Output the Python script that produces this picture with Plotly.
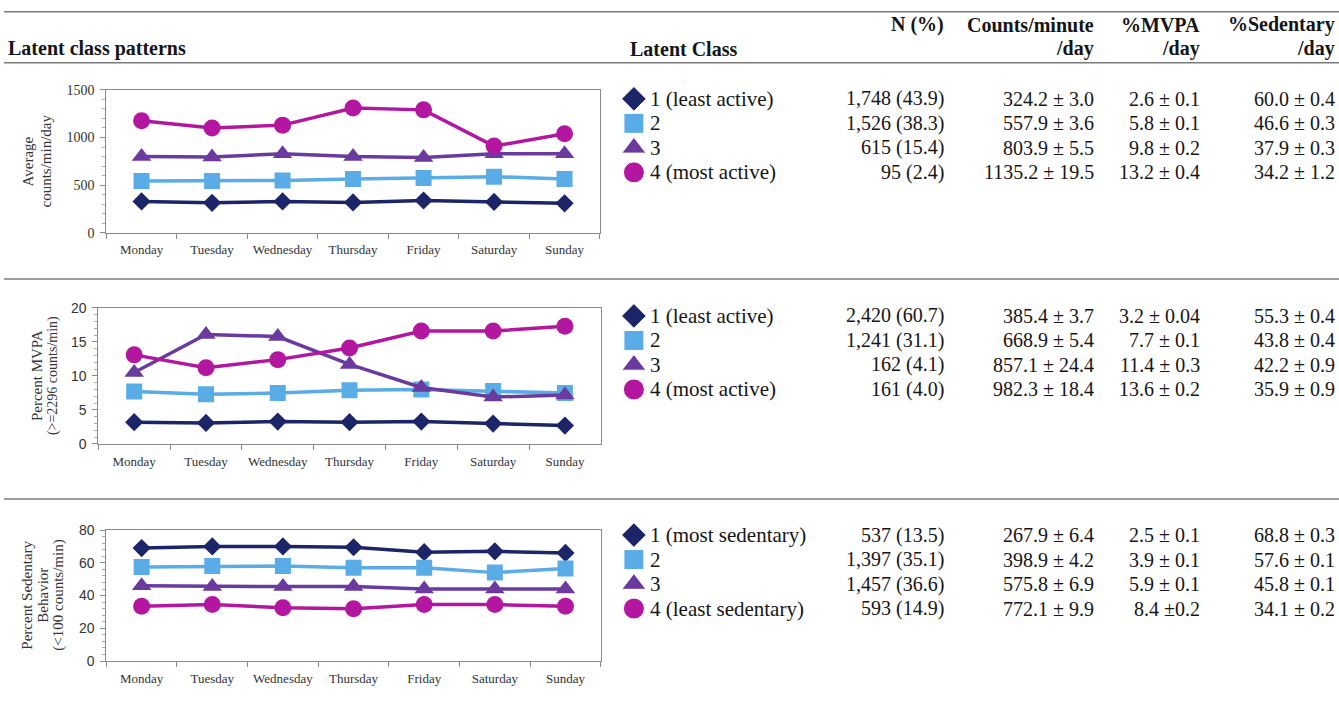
import plotly.graph_objects as go

W, H = 1339, 709

# ---------------- data ----------------
days = ["Monday", "Tuesday", "Wednesday", "Thursday", "Friday", "Saturday", "Sunday"]
class_ids = [1, 2, 3, 4]

counts_c1 = [330, 315, 330, 320, 340, 325, 310]
counts_c2 = [545, 545, 550, 565, 575, 590, 565]
counts_c3 = [800, 795, 830, 800, 790, 830, 830]
counts_c4 = [1175, 1100, 1130, 1310, 1290, 910, 1040]

mvpa_c1 = [3.2, 3.1, 3.3, 3.2, 3.3, 3.0, 2.7]
mvpa_c2 = [7.7, 7.3, 7.5, 7.9, 8.0, 7.8, 7.5]
mvpa_c3 = [10.5, 16.1, 15.8, 11.7, 8.3, 6.9, 7.2]
mvpa_c4 = [13.1, 11.2, 12.4, 14.1, 16.6, 16.6, 17.3]

sed_c1 = [69.0, 70.0, 70.0, 69.5, 66.5, 67.0, 66.0]
sed_c2 = [57.5, 58.0, 58.0, 57.0, 57.0, 54.0, 56.5]
sed_c3 = [46.0, 45.5, 45.5, 45.5, 44.0, 44.0, 44.0]
sed_c4 = [33.5, 34.5, 32.5, 32.0, 34.5, 34.5, 33.5]

y_titles = [["Average", "counts/min/day"],
            ["Percent MVPA", "(>=2296 counts/min)"],
            ["Percent Sedentary", "Behavior", "(<100 counts/min)"]]
y_ranges = [[0, 1500], [0, 20], [0, 80]]
y_dticks = [500, 5, 20]

header_cols = ["N (%)", "Counts/minute", "%MVPA", "%Sedentary"]
header_sub = ["", "/day", "/day", "/day"]

p1_labels = ["1 (least active)", "2", "3", "4 (most active)"]
p1_n = ["1,748 (43.9)", "1,526 (38.3)", "615 (15.4)", "95 (2.4)"]
p1_counts = ["324.2 ± 3.0", "557.9 ± 3.6", "803.9 ± 5.5", "1135.2 ± 19.5"]
p1_mvpa = ["2.6 ± 0.1", "5.8 ± 0.1", "9.8 ± 0.2", "13.2 ± 0.4"]
p1_sed = ["60.0 ± 0.4", "46.6 ± 0.3", "37.9 ± 0.3", "34.2 ± 1.2"]

p2_labels = ["1 (least active)", "2", "3", "4 (most active)"]
p2_n = ["2,420 (60.7)", "1,241 (31.1)", "162 (4.1)", "161 (4.0)"]
p2_counts = ["385.4 ± 3.7", "668.9 ± 5.4", "857.1 ± 24.4", "982.3 ± 18.4"]
p2_mvpa = ["3.2 ± 0.04", "7.7 ± 0.1", "11.4 ± 0.3", "13.6 ± 0.2"]
p2_sed = ["55.3 ± 0.4", "43.8 ± 0.4", "42.2 ± 0.9", "35.9 ± 0.9"]

p3_labels = ["1 (most sedentary)", "2", "3", "4 (least sedentary)"]
p3_n = ["537 (13.5)", "1,397 (35.1)", "1,457 (36.6)", "593 (14.9)"]
p3_counts = ["267.9 ± 6.4", "398.9 ± 4.2", "575.8 ± 6.9", "772.1 ± 9.9"]
p3_mvpa = ["2.5 ± 0.1", "3.9 ± 0.1", "5.9 ± 0.1", "8.4 ±0.2"]
p3_sed = ["68.8 ± 0.3", "57.6 ± 0.1", "45.8 ± 0.1", "34.1 ± 0.2"]

# ---------------- style ----------------
colors = ["#1b2567", "#5aace6", "#6a3a9e", "#b3169f"]
symbols = ["diamond", "square", "triangle-up", "circle"]
chart_msize = [14, 16, 17, 17]
legend_msize = [19, 20, 21, 21]
SERIF = "Liberation Serif, Times New Roman, serif"
SANS = "Liberation Sans, Arial, sans-serif"
TXT = "#151515"
AX = "#8a8a8a"

# observed screen mapping of the page
SY_OFF, SY_SCALE = 6.2, 0.977
SX_OFF, SX_SCALE = 2.0, 0.997


def px(x):
    return ((x - SX_OFF) / SX_SCALE) / W


def py(y):
    return 1 - ((y - SY_OFF) / SY_SCALE) / H


# chart plot boxes in screen pixels (left, right, top, bottom)
chart_boxes = [(108, 600, 88, 231), (100, 601, 306, 442), (108, 601, 528, 659)]
ytick_fonts = [SERIF, SANS, SANS]
ytick_sizes = [14, 14, 14]
ytitle_line_x = [[30, 48], [39, 55], [28, 44, 60]]
ytitle_line_size = [[15, 15], [15, 14], [15, 15, 15]]
# table rows
row1_y = [97, 314, 533]
row_gap = 24.5
marker_x = 634
label_x = 648
col_right = [945, 1095, 1200, 1335]

panels = [
    ([counts_c1, counts_c2, counts_c3, counts_c4], p1_labels, p1_n, p1_counts, p1_mvpa, p1_sed),
    ([mvpa_c1, mvpa_c2, mvpa_c3, mvpa_c4], p2_labels, p2_n, p2_counts, p2_mvpa, p2_sed),
    ([sed_c1, sed_c2, sed_c3, sed_c4], p3_labels, p3_n, p3_counts, p3_mvpa, p3_sed),
]

fig = go.Figure()
layout = {}
annotations = []
shapes = []

for p, (series, labels, ncol, ccol, mcol, scol) in enumerate(panels):
    ax = "" if p == 0 else str(p + 1)
    l, r, t, b = chart_boxes[p]
    for k in range(4):
        fig.add_trace(go.Scatter(
            x=days, y=series[k], mode="lines+markers",
            line=dict(color=colors[k], width=3.5),
            marker=dict(symbol=symbols[k], size=chart_msize[k], color=colors[k], opacity=1),
            xaxis="x" + ax, yaxis="y" + ax, showlegend=False, hoverinfo="skip"))
    layout["xaxis" + ax] = dict(
        domain=[px(l), px(r)], anchor="y" + ax, type="category",
        range=[-0.5, 6.5], showgrid=False, showline=True, linecolor=AX, linewidth=1,
        mirror=True, ticks="outside", tickson="boundaries", ticklen=5, tickcolor=AX,
        ticklabelstandoff=5,
        tickfont=dict(family=SERIF, size=13, color="#333"), fixedrange=True)
    dt = y_dticks[p]
    layout["yaxis" + ax] = dict(
        domain=[py(b), py(t)], anchor="x" + ax, range=y_ranges[p], dtick=dt,
        showgrid=False, zeroline=False, showline=True, linecolor=AX, linewidth=1,
        mirror=True, ticks="outside", ticklen=5, tickcolor=AX, ticklabelstandoff=3,
        minor=dict(ticks="outside", ticklen=3, dtick=dt / 5, tickcolor="#aaa"),
        tickfont=dict(family=ytick_fonts[p], size=ytick_sizes[p], color="#333"),
        fixedrange=True)
    for j, line_text in enumerate(y_titles[p]):
        annotations.append(dict(
            text=line_text, xref="paper", yref="y" + ax + " domain",
            x=px(ytitle_line_x[p][j]), y=0.5, textangle=-90, showarrow=False,
            xanchor="center", yanchor="middle",
            font=dict(family=SERIF, size=ytitle_line_size[p][j], color="#333")))

    # table / legend axis for this panel
    tx = str(p + 4)
    top = row1_y[p] - row_gap / 2
    bot = row1_y[p] + 3 * row_gap + row_gap / 2
    layout["xaxis" + tx] = dict(domain=[px(marker_x - 15), px(marker_x + 15)],
                                range=[-1, 1], visible=False, anchor="y" + tx,
                                fixedrange=True)
    layout["yaxis" + tx] = dict(domain=[py(bot), py(top)], range=[4.5, 0.5],
                                visible=False, anchor="x" + tx, fixedrange=True)
    fig.add_trace(go.Scatter(
        x=[0] * 4, y=class_ids, mode="markers",
        marker=dict(symbol=symbols, size=legend_msize, color=colors, opacity=1),
        xaxis="x" + tx, yaxis="y" + tx, showlegend=False, hoverinfo="skip",
        cliponaxis=False))
    for k in range(4):
        annotations.append(dict(text=labels[k], xref="paper", yref="y" + tx,
                                x=px(label_x), y=class_ids[k], xanchor="left",
                                yanchor="middle", showarrow=False,
                                font=dict(family=SERIF, size=21, color=TXT)))
        for c, col in enumerate([ncol, ccol, mcol, scol]):
            annotations.append(dict(text=col[k], xref="paper", yref="y" + tx,
                                    x=px(col_right[c]), y=class_ids[k],
                                    xanchor="right", yanchor="middle", showarrow=False,
                                    font=dict(family=SERIF, size=20, color=TXT)))

# header text
annotations.append(dict(text="<b>Latent class patterns</b>", xref="paper", yref="paper",
                        x=px(8), y=py(47), xanchor="left", yanchor="middle",
                        showarrow=False, font=dict(family=SERIF, size=20, color=TXT)))
annotations.append(dict(text="<b>Latent Class</b>", xref="paper", yref="paper",
                        x=px(628), y=py(47), xanchor="left", yanchor="middle",
                        showarrow=False, font=dict(family=SERIF, size=20, color=TXT)))
for c in range(4):
    annotations.append(dict(text="<b>" + header_cols[c] + "</b>", xref="paper", yref="paper",
                            x=px(col_right[c]), y=py(23), xanchor="right", yanchor="middle",
                            showarrow=False, font=dict(family=SERIF, size=20, color=TXT)))
    if header_sub[c]:
        annotations.append(dict(text="<b>" + header_sub[c] + "</b>", xref="paper", yref="paper",
                                x=px(col_right[c]), y=py(47), xanchor="right", yanchor="middle",
                                showarrow=False, font=dict(family=SERIF, size=20, color=TXT)))

# separator rules
for yline in [10, 61, 277, 497]:
    shapes.append(dict(type="line", xref="paper", yref="paper",
                       x0=px(6), x1=1, y0=py(yline), y1=py(yline),
                       line=dict(color="#7a7a7a", width=1.5)))

fig.update_layout(
    width=W, height=H, margin=dict(l=0, r=0, t=0, b=0),
    paper_bgcolor="white", plot_bgcolor="white",
    annotations=annotations, shapes=shapes, showlegend=False, **layout)

fig.write_html("out.html", config={"displayModeBar": False},
               post_script="document.body.style.margin='0px';document.body.style.overflow='hidden';")
